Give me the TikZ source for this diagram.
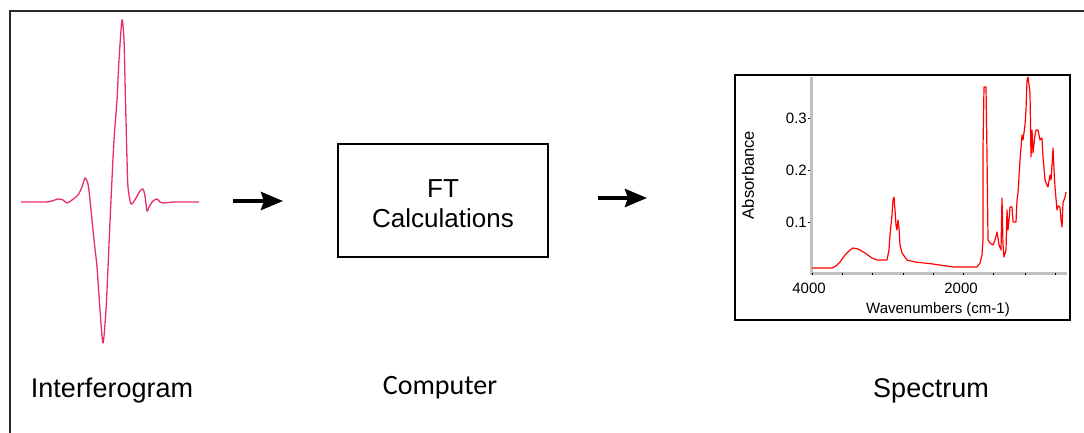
\documentclass[tikz,border=0pt]{standalone}
\usepackage{fontspec}
\setmainfont{Liberation Sans}
\newfontfamily\calfont{Carlito}
\usetikzlibrary{arrows.meta}
\definecolor{wave}{RGB}{232,46,104}
\definecolor{specred}{RGB}{255,0,0}
\definecolor{axisgray}{RGB}{192,192,192}
\definecolor{framegray}{RGB}{40,40,40}
\tikzset{
  bigarrow/.style={line width=4pt, -{Stealth[length=22pt,width=18pt,inset=3pt]}},
  calcbox/.style={draw=black, line width=2pt, minimum width=210pt, minimum height=113pt, inner sep=0pt},
  caption/.style={font=\fontsize{27}{30}\selectfont, anchor=base, inner sep=0pt},
  ticklbl/.style={font=\fontsize{15}{17}\selectfont, inner sep=0pt},
  axislbl/.style={font=\fontsize{15}{17}\selectfont, inner sep=0pt},
}
\begin{document}
\begin{tikzpicture}[x=1pt,y=-1pt]
\useasboundingbox (0,0) rectangle (1084,433);
% page frame (open to the right and bottom)
\draw[framegray, line width=1.3pt] (10,433) -- (10,11) -- (1084,11);

% interferogram
\draw[wave, line width=1.3pt, line join=round] plot[smooth, tension=0.45] coordinates {
  (21,202) (45,202) (52,201) (58,199) (63,200) (67,203) (72,200) (78,195)
  (82,187) (85,178) (88,184) (90,200) (94,240) (97,267) (100,310) (103,343)
  (106,310) (108,267) (111,200) (114,140) (117,100) (119,60) (122,20)
  (124,40) (125,80) (126,120) (127,160) (128,187) (131,204) (136,198)
  (140,191) (143,189) (145,196) (147,211) (149,207) (153,201) (157,199)
  (160,202) (163,203) (175,202) (199,202)};

% arrows between the stages
\coordinate (a1s) at (233,201);
\coordinate (a1e) at (283,201);
\coordinate (a2s) at (598,198);
\coordinate (a2e) at (647,198);
\draw[bigarrow] (a1s) -- (a1e);
\draw[bigarrow] (a2s) -- (a2e);

% FT calculation box
\node[calcbox] (ft) at (443,200.5) {};
\node[align=center, font=\fontsize{26}{30}\selectfont, inner sep=0pt, yshift=-3.5pt] (fttext) at (ft.center) {FT\\Calculations};

% spectrum plot
\node[draw=black, line width=2pt, minimum width=335pt, minimum height=245pt, inner sep=0pt] (plotframe) at (902.5,197.5) {};
\draw[axisgray, line width=3pt] (811,77) -- (811,273) -- (1067,273);
\foreach \x in {812,842,872,903,933,963,993,1025,1055}
  \draw[black, line width=1pt] (\x,272.5) -- (\x,275);
\foreach \y/\t in {118/0.3,170/0.2,222/0.1}{
  \draw[black, line width=0.8pt] (807.5,\y) -- (810,\y);
  \node[ticklbl, anchor=east] at (807,\y) {\t};
}
\node[ticklbl] (x4000) at (809,288) {4000};
\node[ticklbl] (x2000) at (961,288) {2000};
\node[font=\fontsize{16.5}{18}\selectfont, inner sep=0pt, rotate=90] (ylab) at (748,175) {Absorbance};
\node[axislbl] (xlab) at (938,310) {Wavenumbers (cm-1)};
\draw[specred, line width=1.2pt, line join=round] plot coordinates {
  (812,268) (832,268) (836,266) (840,262) (845,255) (850,250) (853,248)
  (858,249) (865,253) (872,258) (877,260) (887,260) (889,250) (890,235)
  (892,215) (893,200) (894,197) (895,210) (896,225) (897,230) (898,220)
  (899,228) (900,245) (902,253) (907,260) (915,262) (933,264) (953,267)
  (977,267) (980,263) (982,255) (983,240) (983,148) (984,87) (986,87)
  (987,155) (988,240) (990,243) (993,245) (995,240) (997,232) (999,245)
  (1001,250) (1002,198) (1003,245) (1004,257) (1006,250) (1007,210)
  (1008,230) (1009,220) (1010,207) (1012,207) (1013,222) (1016,222)
  (1017,200) (1018,193) (1020,160) (1022,135) (1023,140) (1025,125)
  (1026,110) (1027,80) (1028,77) (1030,93) (1031,157) (1032,130)
  (1033,153) (1035,135) (1036,130) (1038,130) (1040,140) (1042,138)
  (1043,157) (1045,180) (1047,185) (1048,187) (1050,175) (1051,180)
  (1052,165) (1053,148) (1054,170) (1055,187) (1057,210) (1058,206)
  (1060,207) (1061,220) (1062,227) (1063,203) (1065,197) (1066,192)};

% stage captions
\node[caption] (lint) at (112,397) {Interferogram};
\node[caption, font=\calfont\fontsize{28}{30}\selectfont] (lcomp) at (440,394) {Computer};
\node[caption] (lspec) at (931,397) {Spectrum};
\end{tikzpicture}
\end{document}
